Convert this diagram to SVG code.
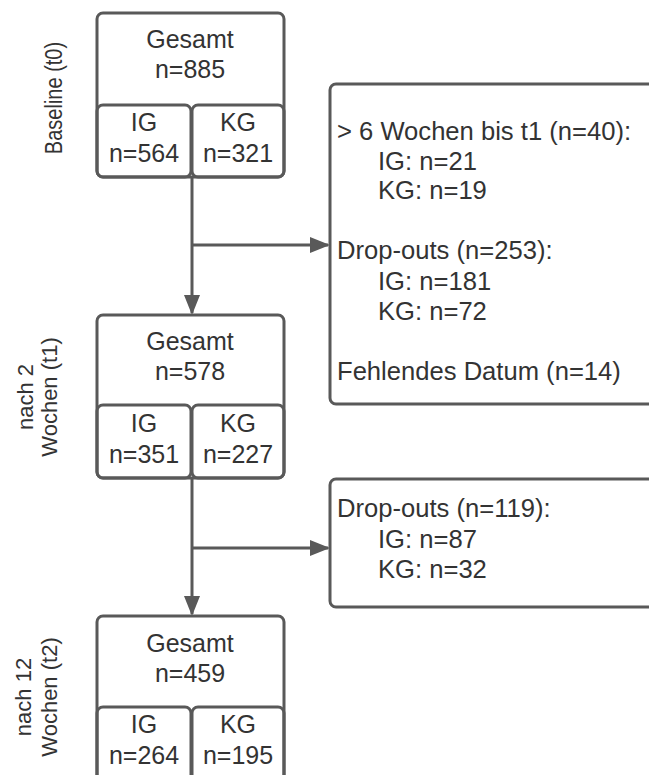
<svg xmlns="http://www.w3.org/2000/svg" width="649" height="775" viewBox="0 0 649 775">
<style>
.box{fill:#fff;stroke:#595959;stroke-width:3}
.sub{fill:none;stroke:#595959;stroke-width:3}
.t{font-family:"Liberation Sans",Arial,sans-serif;font-size:25px;fill:#333}
.s{font-size:25.6px}
.c{text-anchor:middle}
.lab{font-family:"Liberation Sans",Arial,sans-serif;font-size:22px;fill:#333;text-anchor:middle}
.ln{fill:none;stroke:#595959;stroke-width:3}
</style>
<defs>
<marker id="ah" markerUnits="userSpaceOnUse" markerWidth="20" markerHeight="16" refX="18" refY="8" orient="auto">
<path d="M0,0 L20,8 L0,16 z" fill="#595959"/>
</marker>
</defs>
<rect width="649" height="775" fill="#fff"/>

<g id="connectors">
<path class="ln" d="M192,177 V313" marker-end="url(#ah)"/>
<path class="ln" d="M192,245 H328" marker-end="url(#ah)"/>
<path class="ln" d="M192,478 V614" marker-end="url(#ah)"/>
<path class="ln" d="M192,548 H328" marker-end="url(#ah)"/>
</g>

<g id="label-t0">
<text class="lab" style="font-size:20px" transform="translate(62,98) scale(1.15,1) rotate(-90)">Baseline (t0)</text>
</g>
<g id="label-t1">
<text class="lab" transform="translate(33,397) rotate(-90)">nach 2</text>
<text class="lab" transform="translate(57,397) rotate(-90)">Wochen (t1)</text>
</g>
<g id="label-t2">
<text class="lab" transform="translate(31,697) rotate(-90)">nach 12</text>
<text class="lab" transform="translate(57,697) rotate(-90)">Wochen (t2)</text>
</g>

<g id="node-t0">
<rect class="box" x="97" y="13" width="187" height="164" rx="6"/>
<rect class="sub" x="97" y="105" width="94" height="72" rx="6"/>
<rect class="sub" x="192" y="105" width="92" height="72" rx="6"/>
<text class="t c" x="190" y="48">Gesamt</text>
<text class="t c" x="190" y="78">n=885</text>
<text class="t c" x="144" y="131">IG</text>
<text class="t c" x="144" y="162">n=564</text>
<text class="t c" x="238" y="131">KG</text>
<text class="t c" x="238" y="162">n=321</text>
</g>

<g id="node-t1">
<rect class="box" x="97" y="315" width="187" height="163" rx="6"/>
<rect class="sub" x="97" y="405" width="94" height="73" rx="6"/>
<rect class="sub" x="192" y="405" width="92" height="73" rx="6"/>
<text class="t c" x="190" y="350">Gesamt</text>
<text class="t c" x="190" y="380">n=578</text>
<text class="t c" x="144" y="432">IG</text>
<text class="t c" x="144" y="463">n=351</text>
<text class="t c" x="238" y="432">KG</text>
<text class="t c" x="238" y="463">n=227</text>
</g>

<g id="node-t2">
<rect class="box" x="97" y="616" width="187" height="165" rx="6"/>
<rect class="sub" x="97" y="707" width="94" height="74" rx="6"/>
<rect class="sub" x="192" y="707" width="92" height="74" rx="6"/>
<text class="t c" x="190" y="652">Gesamt</text>
<text class="t c" x="190" y="682">n=459</text>
<text class="t c" x="144" y="733">IG</text>
<text class="t c" x="144" y="764">n=264</text>
<text class="t c" x="238" y="733">KG</text>
<text class="t c" x="238" y="764">n=195</text>
</g>

<g id="node-excluded-t1">
<rect class="box" x="330" y="84" width="340" height="320" rx="6"/>
<text class="t s" x="337" y="140">&gt; 6 Wochen bis t1 (n=40):</text>
<text class="t s" x="378" y="170">IG: n=21</text>
<text class="t s" x="378" y="199">KG: n=19</text>
<text class="t s" x="337" y="259">Drop-outs (n=253):</text>
<text class="t s" x="378" y="290">IG: n=181</text>
<text class="t s" x="378" y="320">KG: n=72</text>
<text class="t s" x="337" y="380">Fehlendes Datum (n=14)</text>
</g>

<g id="node-excluded-t2">
<rect class="box" x="330" y="479" width="340" height="128" rx="6"/>
<text class="t s" x="337" y="517">Drop-outs (n=119):</text>
<text class="t s" x="378" y="548">IG: n=87</text>
<text class="t s" x="378" y="578">KG: n=32</text>
</g>
</svg>
